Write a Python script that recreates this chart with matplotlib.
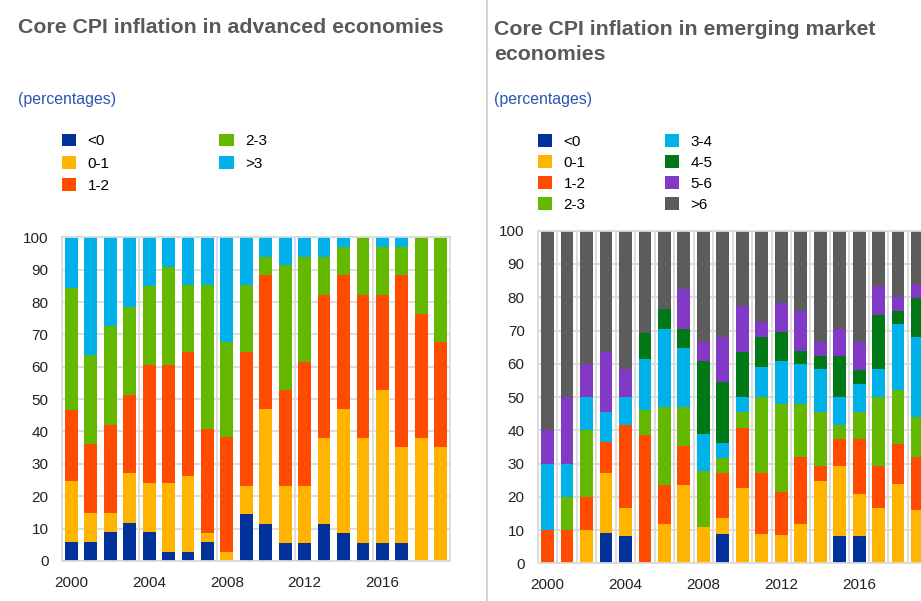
import numpy as np
import matplotlib.pyplot as plt

plt.rcParams['font.family'] = ['Liberation Sans', 'DejaVu Sans']

years = np.arange(2000, 2020)

# Advanced economies (share of countries, %)
adv_labels = ["<0", "0-1", "1-2", "2-3", ">3"]
adv_neg = [6.0, 5.8, 8.8, 11.8, 8.8, 2.8, 2.8, 5.8, 0, 14.4, 11.5, 5.7, 5.7, 11.5, 8.5, 5.7, 5.7, 5.7, 0, 0]
adv_0_1 = [18.8, 9.1, 6.1, 15.3, 15.3, 21.3, 23.4, 2.8, 2.8, 8.9, 35.4, 17.6, 17.6, 26.6, 38.4, 32.4, 47.1, 29.4, 38.1, 35.1]
adv_1_2 = [21.9, 21.2, 27.2, 24.3, 36.3, 36.3, 38.5, 32.2, 35.4, 41.3, 41.3, 29.4, 38.3, 44.2, 41.3, 44.2, 29.5, 53.1, 38.2, 32.4]
adv_2_3 = [37.6, 27.4, 30.4, 27.2, 24.4, 30.4, 20.5, 44.4, 29.3, 20.6, 5.8, 38.6, 32.4, 11.7, 8.8, 17.7, 14.7, 8.8, 23.7, 32.5]
adv_gt3 = [15.7, 36.5, 27.5, 21.4, 15.2, 9.2, 14.8, 14.8, 32.5, 14.8, 6.0, 8.7, 6.0, 6.0, 3.0, 0, 3.0, 3.0, 0, 0]

# Emerging market economies (share of countries, %)
em_labels = ["<0", "0-1", "1-2", "2-3", "3-4", "4-5", "5-6", ">6"]
em_neg = [0, 0, 0, 9.1, 8.3, 0, 0, 0, 0, 8.9, 0, 0, 0, 0, 0, 8.2, 8.2, 0, 0, 0]
em_0_1 = [0, 0, 10, 18.2, 8.4, 0, 11.8, 23.5, 10.9, 4.6, 22.6, 8.9, 8.5, 11.8, 24.9, 21.0, 12.5, 16.6, 23.9, 15.9]
em_1_2 = [10, 10, 10, 9.1, 25.0, 38.5, 11.7, 11.8, 0, 13.8, 18.2, 18.4, 13.0, 20.1, 4.3, 8.2, 16.7, 12.6, 12.0, 16.0]
em_2_3 = [0, 10, 20, 0, 0, 7.7, 23.6, 11.8, 16.9, 4.5, 4.6, 22.6, 26.3, 15.9, 16.4, 4.1, 8.2, 20.7, 16.1, 12.0]
em_3_4 = [20, 10, 10, 9.1, 8.3, 15.3, 23.5, 17.6, 11.1, 4.5, 4.5, 9.1, 13.0, 12.1, 12.7, 8.4, 8.4, 8.4, 19.9, 24.0]
em_4_5 = [0, 0, 0, 0, 0, 7.7, 5.9, 5.9, 22.0, 18.1, 13.6, 9.1, 8.6, 4.0, 4.0, 12.4, 4.2, 16.5, 4.1, 11.9]
em_5_6 = [10, 20, 10, 18.1, 8.3, 0, 0, 11.8, 5.6, 13.7, 13.8, 4.5, 8.8, 12.1, 4.2, 8.3, 8.3, 8.5, 4.0, 4.1]
em_gt6 = [60, 50, 40, 36.4, 41.7, 30.8, 23.5, 17.6, 33.5, 31.9, 22.7, 27.4, 21.8, 24.0, 33.5, 29.4, 33.5, 16.7, 20.0, 16.1]

blue = "#003299"
yellow = "#FFB400"
red = "#FF4B00"
green = "#65B800"
cyan = "#00B1EA"
dkgreen = "#007816"
purple = "#8139C6"
grey = "#5C5C5C"

adv_series = [adv_neg, adv_0_1, adv_1_2, adv_2_3, adv_gt3]
adv_colors = [blue, yellow, red, green, cyan]
em_series = [em_neg, em_0_1, em_1_2, em_2_3, em_3_4, em_4_5, em_5_6, em_gt6]
em_colors = [blue, yellow, red, green, cyan, dkgreen, purple, grey]

grid_col = "#dadada"

fig = plt.figure(figsize=(9.21, 6.01), dpi=100)
ax1 = fig.add_axes([0.067, 0.0666, 0.422, 0.5386])
ax2 = fig.add_axes([0.584, 0.0627, 0.4228, 0.5534])


def stacked(ax, series, colors, labels, vlines):
    bottom = np.zeros(len(years))
    handles = []
    for s, c, lab in zip(series, colors, labels):
        b = ax.bar(years, s, width=0.66, bottom=bottom, color=c, label=lab, zorder=2)
        handles.append(b)
        bottom = bottom + np.array(s)
    ax.set_xlim(1999.5, 2019.5)
    ax.set_ylim(0, 100)
    ax.set_yticks(np.arange(0, 101, 10))
    ax.set_xticks([2000, 2004, 2008, 2012, 2016])
    ax.set_xticks(vlines, minor=True)
    ax.tick_params(axis='both', which='both', length=0, labelsize=11, colors="#222222")
    ax.tick_params(axis='y', pad=9.5)
    ax.tick_params(axis='x', pad=10.5)
    ax.grid(axis='y', color=grid_col, linewidth=1.3, zorder=0)
    ax.grid(axis='x', which='minor', color=grid_col, linewidth=1.3, zorder=0)
    ax.set_axisbelow(True)
    for sp in ax.spines.values():
        sp.set_color(grid_col)
        sp.set_linewidth(1.3)
    return handles


h1 = stacked(ax1, adv_series, adv_colors, adv_labels, [2003.5, 2007.5, 2011.5, 2015.5])
h2 = stacked(ax2, em_series, em_colors, em_labels, np.arange(2000.5, 2019, 1))

title_col = "#595959"
sub_col = "#2b55b0"
fig.text(0.0195, 0.9456, "Core CPI inflation in advanced economies", fontsize=15.3,
         fontweight='bold', color=title_col, va='baseline')
fig.text(0.5367, 0.9, "Core CPI inflation in emerging market\neconomies", fontsize=15.3,
         fontweight='bold', color=title_col, va='baseline', linespacing=1.42)
fig.text(0.0195, 0.8265, "(percentages)", fontsize=11.4, color=sub_col, va='baseline')
fig.text(0.5367, 0.8265, "(percentages)", fontsize=11.4, color=sub_col, va='baseline')

leg_kw = dict(loc='upper left', ncol=2, frameon=False, fontsize=11, handlelength=0.92,
              handleheight=0.87, handletextpad=0.75,
              borderpad=0, borderaxespad=0)
fig.legend(handles=h1, labels=adv_labels, bbox_to_anchor=(0.0673, 0.777),
           columnspacing=7.2, labelspacing=0.5, **leg_kw)
fig.legend(handles=h2, labels=em_labels, bbox_to_anchor=(0.584, 0.7767),
           columnspacing=5.2, labelspacing=0.43, **leg_kw)

# separator between the two panels
fig.add_artist(plt.Line2D([0.5284, 0.5284], [0, 1], transform=fig.transFigure,
                          color="#d0d0d0", linewidth=1.3))

fig.savefig("out.png", dpi=100)
